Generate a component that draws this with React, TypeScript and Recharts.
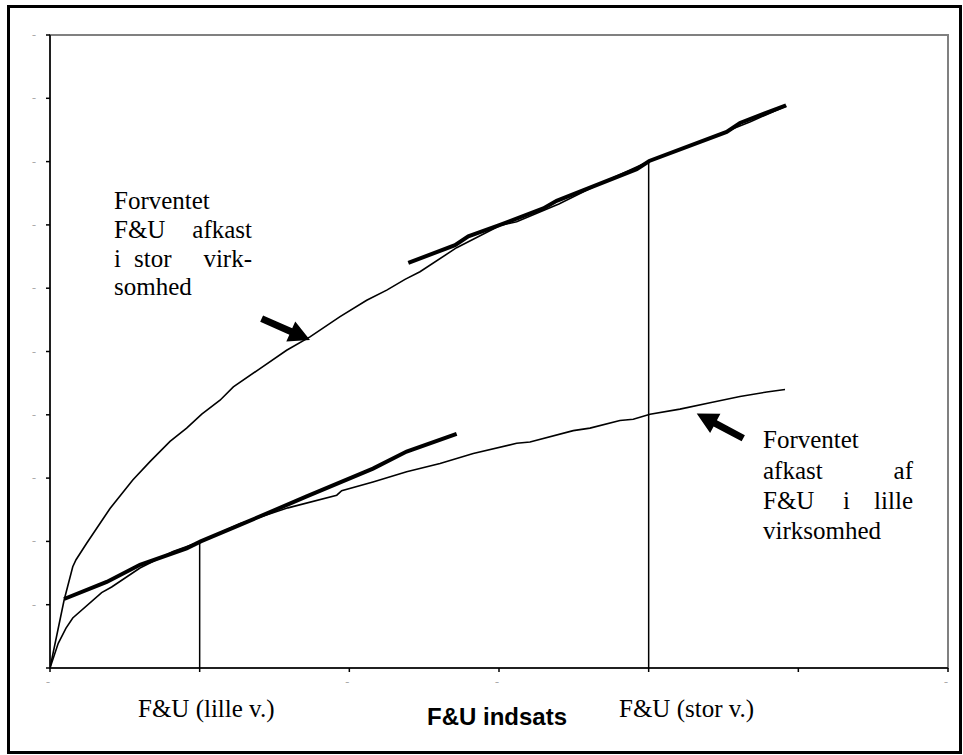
import {
  ComposedChart,
  Line,
  XAxis,
  YAxis,
  ReferenceArea,
  ReferenceLine,
} from "recharts"

// values: x in effort units (tick every 10), y in return units
const storCurve: [number, number][] = [
  [0, 0], [0.94, 1.07], [1.52, 1.6], [1.74, 1.71], [2.45, 1.97], [4.01, 2.52],
  [5.53, 2.97], [6.68, 3.26], [8.02, 3.58], [9.13, 3.79], [10.14, 4.01],
  [11.36, 4.23], [12.25, 4.44], [14.03, 4.73], [15.81, 5.02], [17.37, 5.23],
  [19.38, 5.55], [21.16, 5.81], [22.5, 5.97], [23.72, 6.14], [24.72, 6.26],
  [27.17, 6.64], [30.07, 6.99], [31.18, 7.05], [34.0, 7.33], [37.0, 7.68],
  [40.0, 8.0], [43.4, 8.31], [46.8, 8.63], [49.2, 8.88],
]

const lilleCurve: [number, number][] = [
  [0, 0], [0.55, 0.39], [1.07, 0.63], [1.52, 0.79], [3.45, 1.19], [4.12, 1.28],
  [6.01, 1.58], [8.22, 1.84], [10.07, 2.0], [12.69, 2.28], [15.9, 2.53],
  [19.16, 2.73], [19.49, 2.8], [21.58, 2.94], [23.83, 3.1], [26.06, 3.23],
  [28.28, 3.39], [31.18, 3.55], [32.07, 3.57], [34.96, 3.75], [36.08, 3.79],
  [38.08, 3.91], [38.97, 3.93], [40.09, 4.01], [42.09, 4.09], [44.1, 4.19],
  [46.1, 4.29], [47.89, 4.36], [49.11, 4.4],
]

const storTangent: [number, number][] = [
  [23.94, 6.4], [27.06, 6.68], [27.95, 6.82], [30.07, 7.0], [32.96, 7.26],
  [33.85, 7.38], [39.2, 7.88], [40.04, 8.01], [45.21, 8.47], [46.1, 8.61],
  [49.18, 8.89],
]

const lilleTangent: [number, number][] = [
  [0.94, 1.09], [3.79, 1.36], [6.01, 1.63], [9.13, 1.89], [10.07, 2.0],
  [12.69, 2.26], [17.15, 2.71], [21.58, 3.15], [23.83, 3.42], [27.17, 3.7],
]

const lilleDrop: [number, number][] = [[10, 0], [10, 2]]
const storDrop: [number, number][] = [[40, 0], [40, 8]]

const xTicks = [0, 10, 20, 30, 40, 50, 60]
const yTicks = [0, 1, 2, 3, 4, 5, 6, 7, 8, 9, 10]
const xTickLabels = ["-", "", "-", "-", "", "", "-"]

const storArrow = [{ x: 14.14, y: 5.52 }, { x: 17.37, y: 5.18 }]
const lilleArrow = [{ x: 46.32, y: 3.63 }, { x: 43.21, y: 4.02 }]

const toPts = (arr: [number, number][]) => arr.map(([x, y]) => ({ x, y }))

const serif = "'Liberation Serif', 'Times New Roman', serif"

const ArrowShape = (props: any) => {
  const { x1, y1, x2, y2 } = props
  const dx = x2 - x1
  const dy = y2 - y1
  const len = Math.sqrt(dx * dx + dy * dy)
  const ux = dx / len
  const uy = dy / len
  const px = -uy
  const py = ux
  const head = 21
  const hw = 11
  const sw = 3.5
  const bx = x2 - ux * head
  const by = y2 - uy * head
  const pts = [
    [x1 + px * sw, y1 + py * sw],
    [bx + px * sw, by + py * sw],
    [bx + px * hw, by + py * hw],
    [x2, y2],
    [bx - px * hw, by - py * hw],
    [bx - px * sw, by - py * sw],
    [x1 - px * sw, y1 - py * sw],
  ]
  return <polygon points={pts.map((p) => p.join(",")).join(" ")} fill="#000" />
}

const XTick = (props: any) => {
  const { x, y, index } = props
  return (
    <text x={x - 2} y={y + 12} textAnchor="middle" fontSize={12} fill="#aaa" fontFamily={serif}>
      {xTickLabels[index]}
    </text>
  )
}

const YTick = (props: any) => {
  const { x, y, index } = props
  return (
    <text x={x - 10} y={y + 4} textAnchor="middle" fontSize={12} fill="#aaa" fontFamily={serif}>
      {index === 0 ? "" : "-"}
    </text>
  )
}

export default function App() {
  return (
    <div style={{ position: "absolute", left: 0, top: 0, width: 963, height: 755, background: "#fff" }}>
      <div
        style={{
          position: "absolute",
          left: 7,
          top: 5,
          width: 955,
          height: 749,
          border: "3px solid #000",
          boxSizing: "border-box",
        }}
      />
      <ComposedChart
        width={963}
        height={755}
        margin={{ top: 35, right: 15, bottom: 0, left: 0 }}
        style={{ position: "absolute", left: 0, top: 0 }}
      >
        <ReferenceArea
          x1={0}
          x2={60}
          y1={0}
          y2={10}
          fill="none"
          stroke="#808080"
          strokeWidth={2}
          ifOverflow="visible"
        />
        <XAxis
          type="number"
          dataKey="x"
          domain={[0, 60]}
          ticks={xTicks}
          interval={0}
          height={87}
          stroke="#000"
          strokeWidth={1.5}
          tickSize={4}
          tick={<XTick />}
          allowDataOverflow
        />
        <YAxis
          type="number"
          dataKey="y"
          domain={[0, 10]}
          ticks={yTicks}
          interval={0}
          width={50}
          stroke="#000"
          strokeWidth={1.5}
          tickSize={4}
          tickMargin={2}
          tick={<YTick />}
          allowDataOverflow
        />
        <Line data={toPts(lilleDrop)} dataKey="y" stroke="#000" strokeWidth={1.5} dot={false} isAnimationActive={false} />
        <Line data={toPts(storDrop)} dataKey="y" stroke="#000" strokeWidth={1.5} dot={false} isAnimationActive={false} />
        <Line data={toPts(storCurve)} dataKey="y" stroke="#000" strokeWidth={1.6} dot={false} isAnimationActive={false} />
        <Line data={toPts(lilleCurve)} dataKey="y" stroke="#000" strokeWidth={1.6} dot={false} isAnimationActive={false} />
        <Line data={toPts(storTangent)} dataKey="y" stroke="#000" strokeWidth={4} dot={false} isAnimationActive={false} />
        <Line data={toPts(lilleTangent)} dataKey="y" stroke="#000" strokeWidth={4} dot={false} isAnimationActive={false} />
        <ReferenceLine segment={storArrow} shape={ArrowShape} ifOverflow="visible" />
        <ReferenceLine segment={lilleArrow} shape={ArrowShape} ifOverflow="visible" />
      </ComposedChart>
      <svg
        width={963}
        height={755}
        style={{ position: "absolute", left: 0, top: 0, pointerEvents: "none" }}
        fontFamily={serif}
        fontSize={25}
        fill="#000"
      >
        <text x={114} y={209}>Forventet</text>
        <text x={114} y={238}>F&amp;U</text>
        <text x={252} y={238} textAnchor="end">afkast</text>
        <text x={114} y={267}>i</text>
        <text x={134} y={267}>stor</text>
        <text x={252} y={267} textAnchor="end">virk-</text>
        <text x={114} y={295}>somhed</text>

        <text x={763} y={448}>Forventet</text>
        <text x={763} y={479}>afkast</text>
        <text x={913} y={479} textAnchor="end">af</text>
        <text x={763} y={509}>F&amp;U</text>
        <text x={843} y={509}>i</text>
        <text x={913} y={509} textAnchor="end">lille</text>
        <text x={763} y={539}>virksomhed</text>

        <text x={138} y={717}>F&amp;U (lille v.)</text>
        <text x={619} y={717}>F&amp;U (stor v.)</text>
        <text
          x={427}
          y={725}
          fontFamily="'Liberation Sans', Arial, sans-serif"
          fontWeight="bold"
          fontSize={24}
        >
          F&amp;U indsats
        </text>
      </svg>
    </div>
  )
}
